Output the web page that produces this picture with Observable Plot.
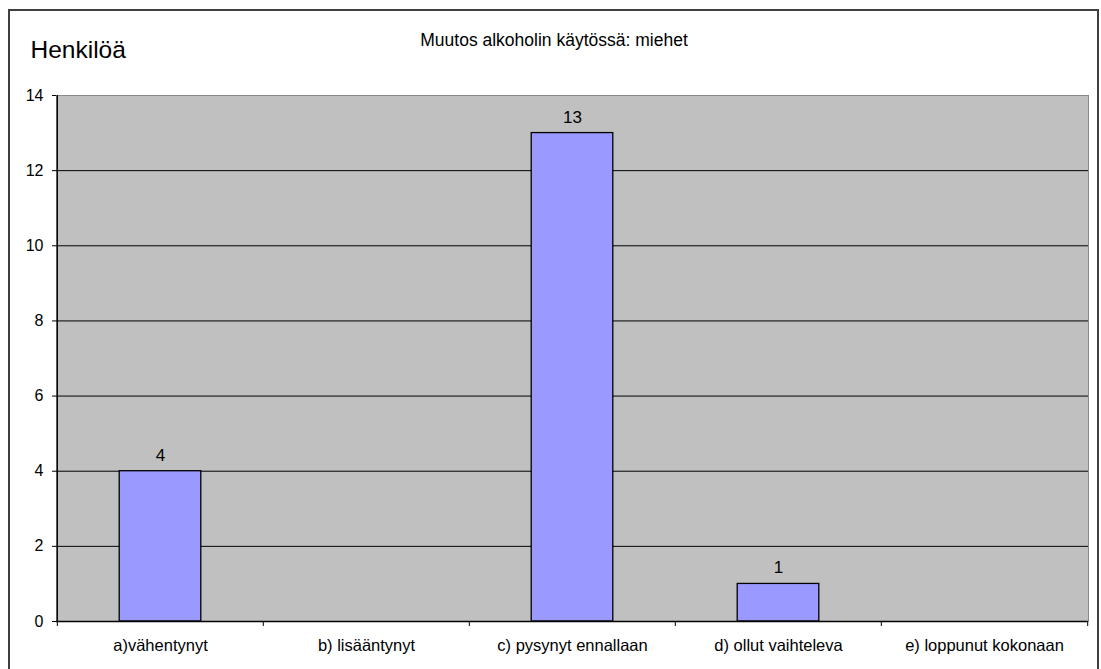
<!DOCTYPE html>
<html>
<head>
<meta charset="utf-8">
<script src="https://cdn.jsdelivr.net/npm/d3@7"></script>
<script src="https://cdn.jsdelivr.net/npm/@observablehq/plot@0.6"></script>
<style>
  html, body { margin: 0; padding: 0; background: #fff; }
  #wrap { position: relative; width: 1101px; height: 669px; overflow: hidden; }
  #frame { position: absolute; left: 8px; top: 9px; width: 1091px; height: 700px;
           border: 2px solid #404040; box-sizing: border-box; pointer-events: none; }
  #chart { position: absolute; left: 0; top: 0; }
</style>
</head>
<body>
<div id="wrap">
  <div id="chart"></div>
  <div id="frame"></div>
</div>
<script>
// Muutos alkoholin käytössä, miehet (henkilöä)
const categories = [
  "a)vähentynyt",
  "b) lisääntynyt",
  "c) pysynyt ennallaan",
  "d) ollut vaihteleva",
  "e) loppunut kokonaan"
];
const counts = [4, 0, 13, 1, 0];
const yTicks = [0, 2, 4, 6, 8, 10, 12, 14];
const titleText = "Muutos alkoholin käytössä: miehet";
const yLabel = "Henkilöä";

const data = categories.map((c, i) => ({category: c, count: counts[i]}));

const W = 1101, H = 669;
const mL = 56, mR = 13, mT = 95, mB = 48;
const band = (W - mL - mR) / categories.length;
const barW = 82;
const font = "'Liberation Sans', Arial, sans-serif";

const chart = Plot.plot({
  width: W,
  height: H,
  marginLeft: mL,
  marginRight: mR,
  marginTop: mT,
  marginBottom: mB,
  style: {fontFamily: font, fontSize: "16px", color: "#000", background: "transparent"},
  x: {domain: categories, padding: 0, label: null},
  y: {domain: [0, 14], ticks: yTicks, label: null},
  marks: [
    // plot area
    Plot.frame({fill: "#C0C0C0", stroke: "#8a8a8a"}),
    // horizontal gridlines
    Plot.ruleY(yTicks.filter(v => v > 0 && v < 14), {stroke: "#000", strokeWidth: 1}),
    // bars
    Plot.barY(data, {
      x: "category", y: "count",
      fill: "#9999FF", stroke: "#000", strokeWidth: 1.3,
      insetLeft: (band - barW) / 2, insetRight: (band - barW) / 2
    }),
    // value labels (non-zero bars only)
    Plot.text(data.filter(d => d.count > 0), {
      x: "category", y: "count", text: d => String(d.count),
      dy: -16, fontSize: 17, fill: "#000"
    }),
    // axes lines
    Plot.ruleY([0], {stroke: "#000", strokeWidth: 1.3}),
    Plot.ruleX([0], {x: () => categories[0], dx: -band / 2, stroke: "#000", strokeWidth: 1.3}),
    // y axis
    Plot.axisY({ticks: yTicks, tickSize: 4, tickPadding: 9, fontSize: 16, stroke: "#000", label: null}),
    // x axis: labels centered, ticks on category boundaries
    Plot.axisX({tickSize: 0, tickPadding: 18, fontSize: 16.5, label: null}),
    Plot.ruleX(categories, {x: d => d, dx: -band / 2, y1: 0, y2: 0, insetBottom: -5, stroke: "#000"}),
    Plot.ruleX([categories[categories.length - 1]], {x: d => d, dx: band / 2, y1: 0, y2: 0, insetBottom: -5, stroke: "#000"}),
    // title and y label
    Plot.text([titleText], {
      frameAnchor: "top", text: d => d, dy: -62, dx: (8 + 1099) / 2 - (mL + (W - mR)) / 2,
      fontSize: 17.5, fill: "#000"
    }),
    Plot.text([yLabel], {
      frameAnchor: "top-left", text: d => d, dx: 30 - mL, dy: -55,
      fontSize: 24.5, fill: "#000", textAnchor: "start"
    })
  ]
});

document.getElementById("chart").appendChild(chart);
</script>
</body>
</html>
